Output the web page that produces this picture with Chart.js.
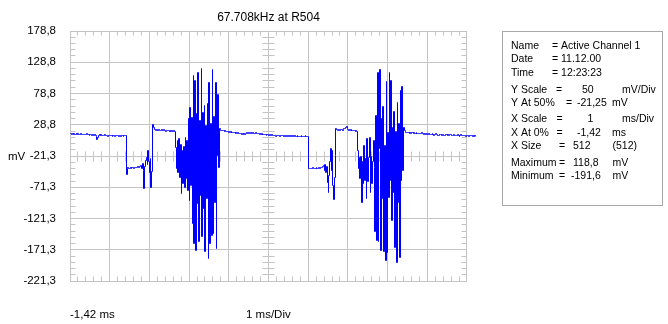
<!DOCTYPE html>
<html>
<head>
<meta charset="utf-8">
<script src="https://cdn.jsdelivr.net/npm/chart.js@4/dist/chart.umd.min.js"></script>
<style>
  html, body { margin: 0; padding: 0; background: #ffffff; }
  #wrap { position: relative; width: 668px; height: 324px; }
</style>
</head>
<body>
<div id="wrap"><canvas id="scope" width="668" height="324"></canvas></div>
<script>
// Channel 1 capture: 512 samples, 20 us apart, values in mV.
const leadIn = [
  15.2, 14.1, 13.5, 14.6, 13.0, 14.3, 12.9, 13.8, 14.7, 13.2, 14.0, 12.6, 13.4, 14.2, 13.1, 12.8,
  13.6, 12.4, 13.9, 12.7, 13.3, 14.1, 12.5, 13.0, 12.2, 13.7, 12.9, 12.1, 13.4, 12.6, 11.8, 12.9,
  12.3, 9.8, 5.6, 8.9, 11.7, 12.4, 11.2, 12.8, 11.5, 12.1, 10.9, 11.8, 12.5, 11.1, 11.9, 10.7,
  11.6, 12.2, 10.8, 11.4, 12.0, 10.6, 11.3, 11.9, 10.5, 11.2, 12.1, 10.9, 11.5, 10.4, 11.7, 11.0,
  10.6, 11.8, 11.1, 10.3, 11.4, 10.8, 11.2
];
const pulseOneLow = [
  -51.5,
  -41.2, -40.3, -41.8, -40.6, -39.9, -41.1, -40.4, -39.6, -40.8, -39.7, -40.2, -39.1, -39.8, -38.6, -39.4, -38.2, -37.5,
  -36, -42, -33, -45, -72.5, -38, -28, -23, -35, -12, -30, -48, -26, -72, -46
];
const pulseOneHigh = [
  28.5, 24.1, 20.6, 21.3, 19.8, 20.9, 19.4, 20.2, 21.0, 19.1, 19.9, 20.6, 18.8, 19.7,
  20.4, 19.2, 18.6, 19.5, 20.1, 18.9, 19.3, 18.4, 19.8, 18.7, 19.2, 18.1, 19.0, 18.5
];
const burstOne = [
  17.5, -8, -42, 4, -48, 7, -55, -3, -82, -12, -66, -6, -72, 9, -58, 3, -76,
  38, -92, 57, -68, 41, -129, 108, -161, 100, -172, 46, -98, 113, -158, 35, -84, 118.8, -150, 48,
  -105, 60, -174, 28, -90, 63, -185, 96, -161, 30, -148, 117, -145, 42, -96, 96, -170, -20, 77, -39, 22.5
];
const idleMiddle = [
  20.4, 19.1, 20.2, 18.8, 19.6, 18.3, 19.0, 17.9, 18.6, 17.4, 18.2, 17.0, 17.8, 16.6, 17.3, 16.1,
  16.9, 15.8, 16.4, 15.2, 16.0, 14.9, 15.6, 14.4, 15.3, 14.1, 15.0, 13.8, 14.6, 13.5, 14.4, 13.2,
  14.8, 15.9, 16.7, 15.4, 16.2, 14.9, 15.7, 14.3, 15.1, 16.4, 15.0, 14.2, 15.5, 16.1, 14.8, 15.3,
  14.0, 14.9, 13.6, 14.5, 13.2, 14.1, 12.8, 13.9, 12.5, 13.4, 12.1, 13.0, 12.4, 11.8, 12.7, 12.0,
  11.5, 12.4, 11.1, 12.0, 10.8, 11.7, 10.5, 11.4, 12.2, 11.0, 11.8, 10.6, 11.3, 12.0, 10.9, 11.5,
  10.4, 11.1, 11.9, 10.7, 11.3, 10.2, 11.0, 11.6, 10.5, 11.2, 9.9, 10.8, 11.4, 10.3, 10.9, 9.8,
  10.6, 11.2, 10.1, 10.7, 9.6, 10.4, 11.0, 9.9, 10.5, 9.4, 10.2, 10.8, 9.7, 10.3, 9.5
];
const pulseTwoLow = [
  -40.5,
  -41.3, -40.6, -41.9, -40.8, -41.5, -40.2, -41.1, -40.7, -41.6, -40.3, -40.9, -41.4, -40.1, -40.8, -39.6, -40.4, -39.2, -38.5,
  -37, -44, -35, -47, -38, -63, -80, -52, -30, -9, -44, -12, -68, -91.6, -55, -20
];
const pulseTwoHigh = [
  22.5, 20.8, 19.9, 20.6, 21.3, 19.7, 20.4, 21.0, 20.1, 21.6, 22.4, 23.1, 24.6,
  25.2, 23.0, 21.4, 20.2, 20.9, 19.6, 20.5, 19.3, 20.1, 19.0, 19.8, 18.7, 19.4
];
const burstTwo = [
  18.5, -12, -42, -24, -58, -22, -96, -30, -65, -5, -60, -26, -90, 6, -62, -24, 9, -79, -22, -66, -30, 3,
  -40, -142, 44, -156, 113, -158, -10, 117.5, -172, 38, -90, 58, -174, -5, -188, 98, -176, 16, -88,
  112.7, -60, 100, -124, 25, -80, 50, -168, 18, -191.6, 64, -95, 30, -184, 84, -60, 90, -44, 24
];
const tailOut = [
  19.2, 17.6, 16.4, 17.1, 15.8, 16.5, 15.2, 16.0, 14.9, 15.7, 16.3, 15.1, 15.9, 14.6, 15.4, 16.1,
  14.8, 15.5, 14.3, 15.2, 14.0, 14.9, 15.6, 14.2, 13.1, 14.4, 15.0, 13.8, 14.5, 13.3, 14.1, 14.8,
  13.6, 12.4, 13.9, 14.6, 13.2, 12.0, 13.5, 14.2, 12.9, 13.7, 12.3, 11.6, 13.0, 13.8, 12.5, 11.9,
  12.8, 13.4, 12.1, 11.4, 12.6, 13.3, 11.9, 12.7, 11.2, 12.4, 13.1, 11.7, 10.9, 12.2, 12.9, 11.5,
  12.3, 11.0, 11.8, 12.6, 11.3, 10.6, 11.9, 12.5, 11.1, 11.7, 10.8, 12.0, 11.4, 10.5, 11.6, 12.2,
  11.0, 10.4, 11.5, 12.1, 10.9, 11.6, 10.7, 11.3, 10.2, 11.1, 10.6
];

const traceMv = [
  ...leadIn, ...pulseOneLow, ...pulseOneHigh, ...burstOne, ...idleMiddle,
  ...pulseTwoLow, ...pulseTwoHigh, ...burstTwo, ...tailOut
];

// Graticule: 10 x 50 samples horizontally, 8 x 50 mV vertically.
// The record holds 512 samples, so the last 12 run past the right edge of the screen.
const xDivisionSamples = [0, 50, 100, 150, 200, 250, 300, 350, 400, 450, 500];
const yTickValues = [-221.25, -171.25, -121.25, -71.25, -21.25, 28.75, 78.75, 128.75, 178.75];
const yTickLabels = ['-221,3', '-171,3', '-121,3', '-71,3', '-21,3', '28,8', '78,8', '128,8', '178,8'];

const titleText = '67.708kHz at R504';
const yUnitText = 'mV';
const xStartText = '-1,42 ms';
const xScaleText = '1 ms/Div';

// Info panel text, one row per line
const infoRows = [
  ['Name', '= Active Channel 1'],
  ['Date', '= 11.12.00'],
  ['Time', '= 12:23:23'],
  ['Y Scale', '=', '50', 'mV/Div'],
  ['Y At 50%', '=', '-21,25', 'mV'],
  ['X Scale', '=', '1', 'ms/Div'],
  ['X At 0%', '=', '-1,42', 'ms'],
  ['X Size', '=', '512', '(512)'],
  ['Maximum', '=', '118,8', 'mV'],
  ['Minimum', '=', '-191,6', 'mV']
];
const infoRowBaselines = [48.5, 62, 75.5, 92.5, 106, 122, 135.5, 149, 165.5, 179];
const infoColumns = [
  [511, 552], [511, 552], [511, 552],
  [511, 556, 582, 622],
  [511, 566, 577, 612],
  [511, 556.5, 587.5, 622],
  [511, 556.5, 577, 612],
  [511, 559, 573, 612.5],
  [511, 559, 573, 612.5],
  [511, 559, 571, 612.5]
];

const FONT = "'Liberation Sans', Arial, sans-serif";
const GRID = '#c4c4c4';
const SCREEN_END = 500;      // last sample on the graticule
const CENTRE_SAMPLE = 250;
const CENTRE_MV = -21.25;

const crisp = p => Math.round(p - 0.5) + 0.5;

// Snap trace vertices to pixel centres so the trace renders as crisp 1px strokes
const pixelSnap = {
  id: 'pixelSnap',
  beforeDatasetsDraw(chart) {
    chart.getDatasetMeta(0).data.forEach(pt => {
      pt.x = Math.floor(pt.x) + 0.5;
      pt.y = Math.floor(pt.y) + 0.5;
    });
  }
};

const graticule = {
  id: 'graticule',
  beforeDatasetsDraw(chart) {
    const { ctx, chartArea: a } = chart;
    const xs = chart.scales.x, ys = chart.scales.y;
    const left = crisp(a.left);
    const right = crisp(xs.getPixelForValue(SCREEN_END));
    const top = crisp(ys.getPixelForValue(yTickValues[yTickValues.length - 1]));
    const bottom = crisp(ys.getPixelForValue(yTickValues[0]));
    const cx = crisp(xs.getPixelForValue(CENTRE_SAMPLE));
    const cy = crisp(ys.getPixelForValue(CENTRE_MV));
    ctx.save();
    ctx.strokeStyle = GRID;
    ctx.lineWidth = 1;
    ctx.beginPath();
    // horizontal division lines
    yTickValues.forEach(v => {
      const py = crisp(ys.getPixelForValue(v));
      ctx.moveTo(left - 0.5, py); ctx.lineTo(right + 0.5, py);
    });
    // minor marks, five per division
    for (let k = 1; k < 50; k++) {
      if (k % 5 === 0) continue;
      const px = crisp(xs.getPixelForValue(k * 10));
      ctx.moveTo(px, top); ctx.lineTo(px, top + 4);
      ctx.moveTo(px, bottom); ctx.lineTo(px, bottom - 5);
      ctx.moveTo(px, cy - 5); ctx.lineTo(px, cy + 5);
    }
    for (let k = 1; k < 40; k++) {
      if (k % 5 === 0) continue;
      const py = crisp(ys.getPixelForValue(yTickValues[0] + k * 10));
      ctx.moveTo(left, py); ctx.lineTo(left + 5, py);
      ctx.moveTo(right, py); ctx.lineTo(right - 5, py);
      ctx.moveTo(cx - 6, py); ctx.lineTo(cx + 6, py);
    }
    ctx.stroke();
    ctx.restore();
  },
  afterDraw(chart) {
    const { ctx, chartArea: a } = chart;
    const xs = chart.scales.x;
    const right = xs.getPixelForValue(SCREEN_END);
    ctx.save();
    ctx.fillStyle = '#000000';
    ctx.textBaseline = 'alphabetic';

    ctx.font = '12px ' + FONT;
    ctx.textAlign = 'center';
    ctx.fillText(titleText, (a.left + right) / 2, 20.5);

    ctx.textAlign = 'left';
    ctx.font = '11.5px ' + FONT;
    ctx.fillText(yUnitText, 8, 160);
    ctx.fillText(xStartText, a.left, 318);
    ctx.fillText(xScaleText, 246, 318);

    // info panel
    ctx.strokeStyle = '#a8a8a8';
    ctx.lineWidth = 1;
    ctx.strokeRect(502.5, 31.5, 160, 174);
    ctx.font = '10.5px ' + FONT;
    infoRows.forEach((row, r) => {
      row.forEach((cell, c) => {
        ctx.fillText(cell, infoColumns[r][c], infoRowBaselines[r]);
      });
    });
    ctx.restore();
  }
};

new Chart(document.getElementById('scope'), {
  type: 'line',
  data: {
    datasets: [{
      data: traceMv.map((v, i) => ({ x: i, y: v })),
      borderColor: '#0000ff',
      borderWidth: 1,
      pointRadius: 0,
      stepped: 'before',
      fill: false,
      clip: false
    }]
  },
  options: {
    responsive: false,
    devicePixelRatio: 1,
    animation: false,
    events: [],
    // 500 samples span 397px; the plot box runs on to the final sample
    layout: { padding: { top: 31, right: 192.27, left: 0, bottom: 0 } },
    plugins: {
      legend: { display: false },
      tooltip: { enabled: false },
      title: { display: false }
    },
    scales: {
      x: {
        type: 'linear',
        bounds: 'data',
        min: 0,
        max: traceMv.length - 1,
        ticks: { display: false },
        grid: { color: GRID, lineWidth: 1, drawTicks: false },
        border: { display: false },
        afterBuildTicks(scale) { scale.ticks = xDivisionSamples.map(v => ({ value: v })); },
        afterFit(scale) { scale.height = 43; }
      },
      y: {
        type: 'linear',
        bounds: 'data',
        min: -221.25,
        max: 178.75,
        ticks: {
          padding: 6,
          color: '#000000',
          font: { family: FONT, size: 11.5 },
          callback: (value, index) => yTickLabels[index]
        },
        grid: { display: false },
        border: { display: false },
        afterBuildTicks(scale) { scale.ticks = yTickValues.map(v => ({ value: v })); },
        afterFit(scale) { scale.width = 70; }
      }
    }
  },
  plugins: [pixelSnap, graticule]
});
</script>
</body>
</html>
